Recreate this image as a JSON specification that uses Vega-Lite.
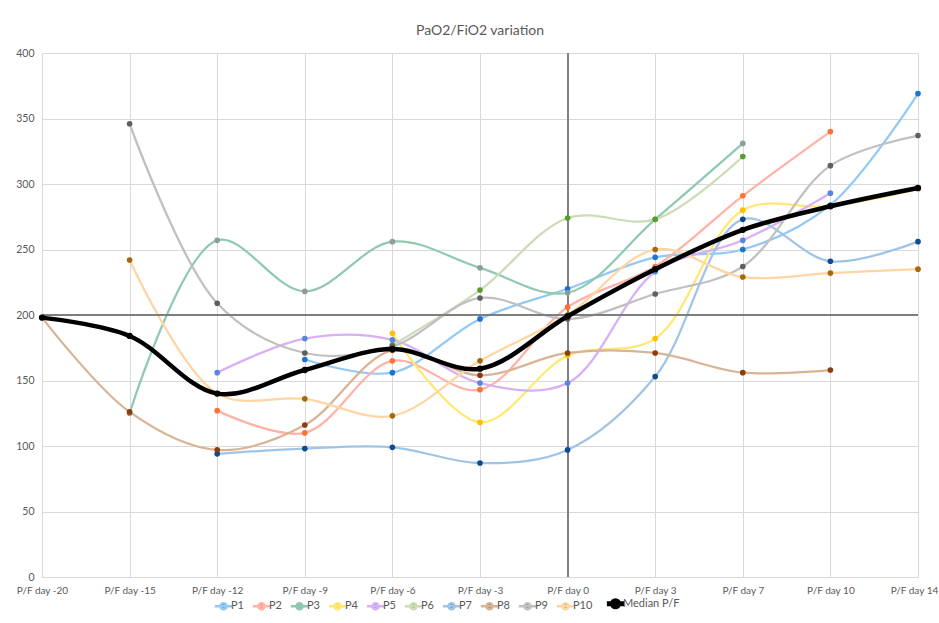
{
  "$schema": "https://vega.github.io/schema/vega-lite/v6.json",
  "width": 876,
  "height": 524,
  "autosize": {"type": "none"},
  "padding": {"left": 42, "top": 53, "right": 21, "bottom": 46},
  "background": "white",
  "title": {"text": "PaO2/FiO2 variation", "fontSize": 14, "font": "Lato", "fontWeight": "normal", "color": "#595959", "offset": 10, "anchor": "middle"},
  "config": {"view": {"stroke": null}, "font": "Lato", "scale": {"pointPadding": 0}},
  "data": {"values": [
    {"s": "P1", "day": -9, "v": 166}, {"s": "P1", "day": -6, "v": 156}, {"s": "P1", "day": -3, "v": 197}, {"s": "P1", "day": 0, "v": 220}, {"s": "P1", "day": 3, "v": 244}, {"s": "P1", "day": 7, "v": 250}, {"s": "P1", "day": 10, "v": 284}, {"s": "P1", "day": 14, "v": 369},
    {"s": "P2", "day": -12, "v": 127}, {"s": "P2", "day": -9, "v": 110}, {"s": "P2", "day": -6, "v": 165}, {"s": "P2", "day": -3, "v": 143}, {"s": "P2", "day": 0, "v": 206}, {"s": "P2", "day": 3, "v": 237}, {"s": "P2", "day": 7, "v": 291}, {"s": "P2", "day": 10, "v": 340},
    {"s": "P3", "day": -15, "v": 125}, {"s": "P3", "day": -12, "v": 257}, {"s": "P3", "day": -9, "v": 218}, {"s": "P3", "day": -6, "v": 256}, {"s": "P3", "day": -3, "v": 236}, {"s": "P3", "day": 0, "v": 217}, {"s": "P3", "day": 3, "v": 273}, {"s": "P3", "day": 7, "v": 331},
    {"s": "P4", "day": -6, "v": 186}, {"s": "P4", "day": -3, "v": 118}, {"s": "P4", "day": 0, "v": 169}, {"s": "P4", "day": 3, "v": 182}, {"s": "P4", "day": 7, "v": 280}, {"s": "P4", "day": 10, "v": 283}, {"s": "P4", "day": 14, "v": 296},
    {"s": "P5", "day": -12, "v": 156}, {"s": "P5", "day": -9, "v": 182}, {"s": "P5", "day": -6, "v": 181}, {"s": "P5", "day": -3, "v": 148}, {"s": "P5", "day": 0, "v": 148}, {"s": "P5", "day": 3, "v": 233}, {"s": "P5", "day": 7, "v": 257}, {"s": "P5", "day": 10, "v": 293},
    {"s": "P6", "day": -6, "v": 177}, {"s": "P6", "day": -3, "v": 219}, {"s": "P6", "day": 0, "v": 274}, {"s": "P6", "day": 3, "v": 273}, {"s": "P6", "day": 7, "v": 321},
    {"s": "P7", "day": -12, "v": 94}, {"s": "P7", "day": -9, "v": 98}, {"s": "P7", "day": -6, "v": 99}, {"s": "P7", "day": -3, "v": 87}, {"s": "P7", "day": 0, "v": 97}, {"s": "P7", "day": 3, "v": 153}, {"s": "P7", "day": 7, "v": 273}, {"s": "P7", "day": 10, "v": 241}, {"s": "P7", "day": 14, "v": 256},
    {"s": "P8", "day": -20, "v": 198}, {"s": "P8", "day": -15, "v": 126}, {"s": "P8", "day": -12, "v": 97}, {"s": "P8", "day": -9, "v": 116}, {"s": "P8", "day": -6, "v": 173}, {"s": "P8", "day": -3, "v": 154}, {"s": "P8", "day": 0, "v": 171}, {"s": "P8", "day": 3, "v": 171}, {"s": "P8", "day": 7, "v": 156}, {"s": "P8", "day": 10, "v": 158},
    {"s": "P9", "day": -15, "v": 346}, {"s": "P9", "day": -12, "v": 209}, {"s": "P9", "day": -9, "v": 171}, {"s": "P9", "day": -6, "v": 176}, {"s": "P9", "day": -3, "v": 213}, {"s": "P9", "day": 0, "v": 197}, {"s": "P9", "day": 3, "v": 216}, {"s": "P9", "day": 7, "v": 237}, {"s": "P9", "day": 10, "v": 314}, {"s": "P9", "day": 14, "v": 337},
    {"s": "P10", "day": -15, "v": 242}, {"s": "P10", "day": -12, "v": 140}, {"s": "P10", "day": -9, "v": 136}, {"s": "P10", "day": -6, "v": 123}, {"s": "P10", "day": -3, "v": 165}, {"s": "P10", "day": 0, "v": 200}, {"s": "P10", "day": 3, "v": 250}, {"s": "P10", "day": 7, "v": 229}, {"s": "P10", "day": 10, "v": 232}, {"s": "P10", "day": 14, "v": 235},
    {"s": "Median P/F", "day": -20, "v": 198}, {"s": "Median P/F", "day": -15, "v": 184}, {"s": "Median P/F", "day": -12, "v": 140}, {"s": "Median P/F", "day": -9, "v": 158}, {"s": "Median P/F", "day": -6, "v": 174}, {"s": "Median P/F", "day": -3, "v": 159}, {"s": "Median P/F", "day": 0, "v": 199}, {"s": "Median P/F", "day": 3, "v": 235}, {"s": "Median P/F", "day": 7, "v": 265}, {"s": "Median P/F", "day": 10, "v": 283}, {"s": "Median P/F", "day": 14, "v": 297}
  ]},
  "layer": [
    {
      "mark": {"type": "line", "interpolate": "catmull-rom", "strokeWidth": 2.25},
      "transform": [{"filter": "datum.s !== 'Median P/F'"}],
      "encoding": {
        "x": {"field": "day", "type": "ordinal", "scale": {"type": "point", "domain": [-20, -15, -12, -9, -6, -3, 0, 3, 7, 10, 14], "padding": 0},
          "axis": {"title": null, "labelExpr": "'P/F day ' + datum.value", "labelAngle": 0, "ticks": false, "domainColor": "#d9d9d9", "gridColor": "#d9d9d9", "grid": true, "labelColor": "#595959", "labelFontSize": 10, "labelFont": "Lato", "labelPadding": 8,
            "labelOffset": {"condition": {"test": "datum.value === 14", "value": -4}, "value": 0}}},
        "y": {"field": "v", "type": "quantitative", "scale": {"domain": [0, 400]},
          "axis": {"title": null, "values": [0, 50, 100, 150, 200, 250, 300, 350, 400], "ticks": false, "domain": false, "gridColor": "#d9d9d9", "labelColor": "#595959", "labelFontSize": 10.5, "labelFont": "Lato", "labelPadding": 8}},
        "stroke": {"field": "s", "type": "nominal",
          "scale": {"domain": ["P1", "P2", "P3", "P4", "P5", "P6", "P7", "P8", "P9", "P10", "Median P/F"],
                    "range": ["#92c9f5", "#ffb2a5", "#8fcab0", "#ffe873", "#d7b0f5", "#cbdcb6", "#a0c4e6", "#d8b495", "#c0c0c0", "#ffd5a3", "#000000"]},
          "legend": {"title": null, "orient": "none", "legendX": 176, "legendY": 545, "direction": "horizontal", "symbolType": "M-1,0L1,0M-0.35,0A0.35,0.35,0,1,1,0.35,0A0.35,0.35,0,1,1,-0.35,0Z", "symbolSize": 300, "symbolStrokeWidth": 2.5, "labelFontSize": 11, "labelFont": "Lato", "labelColor": "#595959", "columnPadding": 3, "labelOffset": 2,
            "encode": {"symbols": {"update": {"fill": {"signal": "scale('fill', datum.value)"}, "strokeWidth": {"signal": "datum.value === 'Median P/F' ? 5 : 2.5"}, "opacity": {"value": 1}}}}}},
        "order": {"field": "day", "type": "quantitative"}
      }
    },
    {
      "mark": {"type": "rule", "color": "#7f7f7f", "strokeWidth": 1},
      "encoding": {"y": {"datum": 200, "type": "quantitative"}}
    },
    {
      "mark": {"type": "rule", "color": "#7f7f7f", "strokeWidth": 1},
      "encoding": {"x": {"datum": 0, "type": "ordinal"}}
    },
    {
      "mark": {"type": "circle", "size": 32, "opacity": 1},
      "transform": [{"filter": "datum.s !== 'Median P/F'"}],
      "encoding": {
        "x": {"field": "day", "type": "ordinal"},
        "y": {"field": "v", "type": "quantitative"},
        "fill": {"field": "s", "type": "nominal",
          "scale": {"domain": ["P1", "P2", "P3", "P4", "P5", "P6", "P7", "P8", "P9", "P10", "Median P/F"],
                    "range": ["#1a74d0", "#ff7133", "#8f9d98", "#ffc000", "#5a84e0", "#5b9c32", "#0e4a8f", "#8b3d0a", "#5f5f5f", "#a5680a", "#000000"]},
          "legend": null}
      }
    },
    {
      "mark": {"type": "line", "interpolate": "catmull-rom", "strokeWidth": 4.5, "color": "#000000"},
      "transform": [{"filter": "datum.s === 'Median P/F'"}],
      "encoding": {
        "x": {"field": "day", "type": "ordinal"},
        "y": {"field": "v", "type": "quantitative"},
        "order": {"field": "day", "type": "quantitative"}
      }
    },
    {
      "mark": {"type": "circle", "size": 40, "opacity": 1, "color": "#000000"},
      "transform": [{"filter": "datum.s === 'Median P/F'"}],
      "encoding": {
        "x": {"field": "day", "type": "ordinal"},
        "y": {"field": "v", "type": "quantitative"}
      }
    }
  ]
}
